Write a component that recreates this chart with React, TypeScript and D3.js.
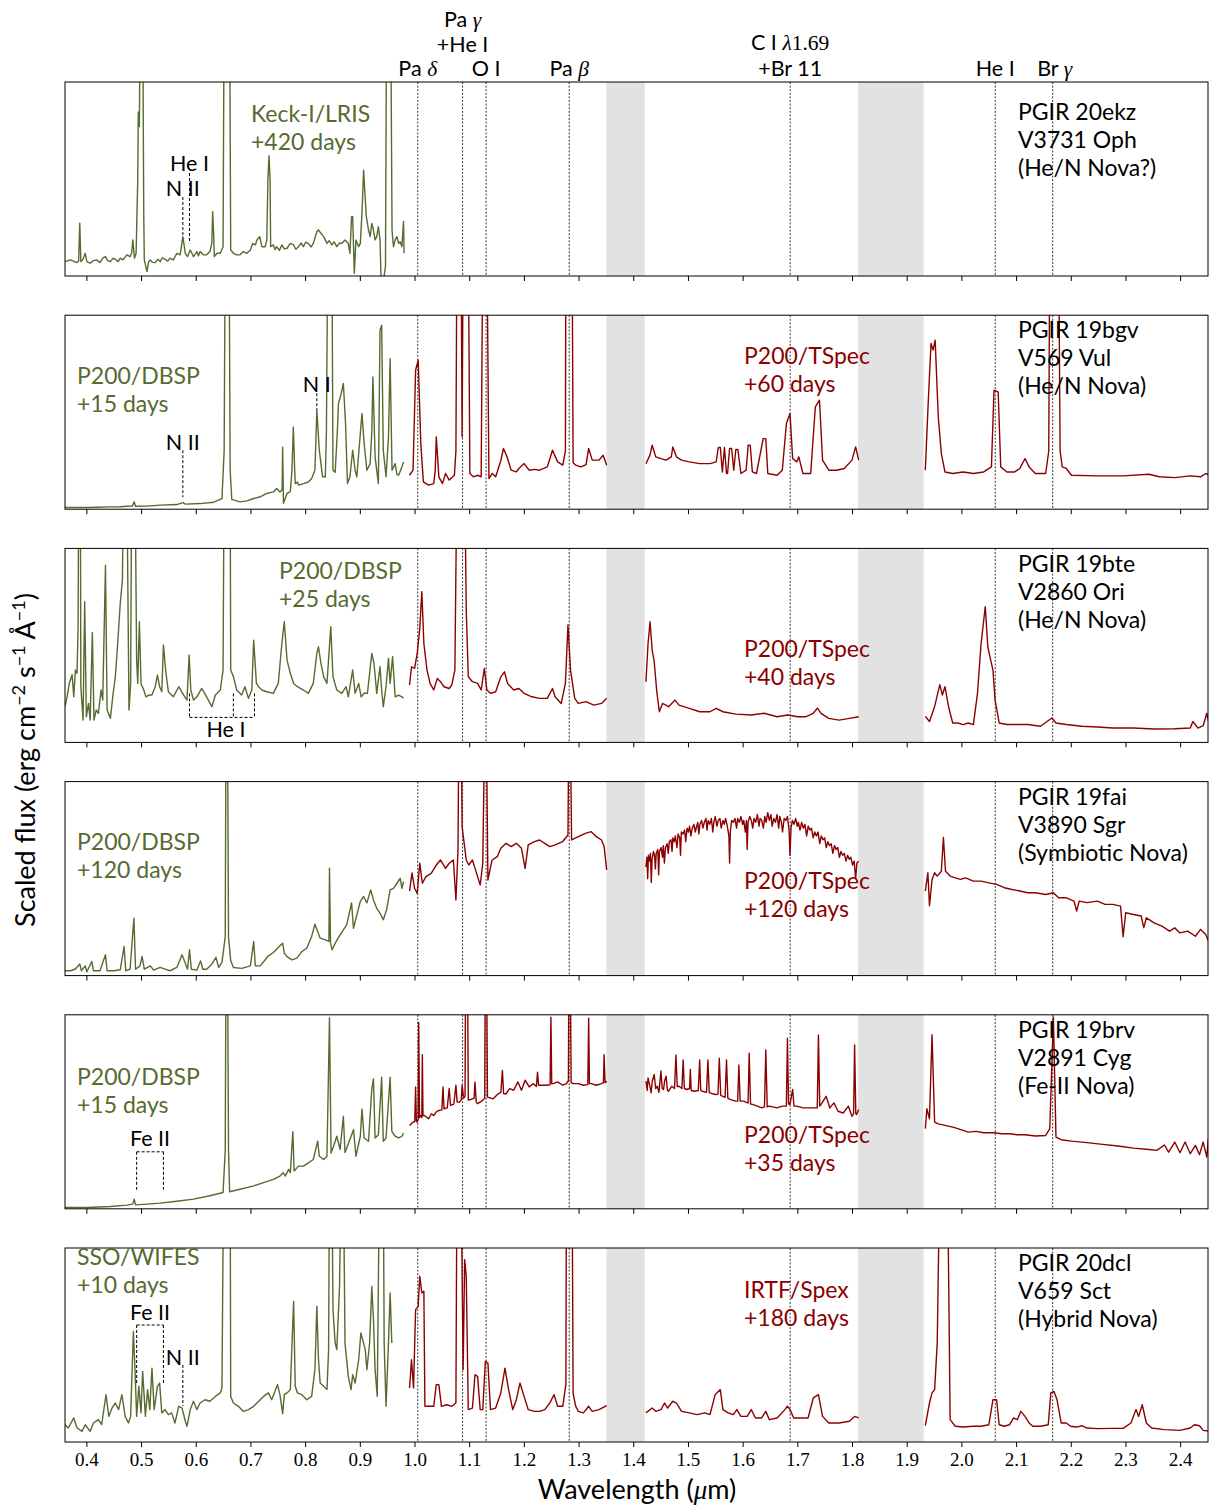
import React from "react";
import * as d3 from "d3";

type Pt = [number, number];

// ---- axis / reference data -------------------------------------------------
const WAVE_TICKS = [0.4, 0.5, 0.6, 0.7, 0.8, 0.9, 1.0, 1.1, 1.2, 1.3, 1.4, 1.5, 1.6, 1.7, 1.8, 1.9, 2.0, 2.1, 2.2, 2.3, 2.4];
const TICK_LABELS = WAVE_TICKS.map((t) => t.toFixed(1));
// NIR line identifications: Pa delta, Pa gamma + He I, O I, Pa beta, C I 1.69 + Br 11, He I, Br gamma
const NIR_LINES = [1.005, 1.087, 1.13, 1.282, 1.686, 2.061, 2.166];
// telluric gaps
const TELLURIC_BANDS: Pt[] = [[1.35, 1.42], [1.81, 1.93]];

// optical line identifications
const N_II_5755 = 0.5755;
const HE_I_5876 = 0.5877;
const HE_I_6678 = 0.6678;
const HE_I_7065 = 0.7065;
const N_I_8210 = 0.8205;
const FE_II_BLUE = 0.491;
const FE_II_RED = 0.54;

// ---- PGIR 20ekz / V3731 Oph -------------------------------------------------
const ekzOptical: Pt[] = [
  [0.36, 7.4], [0.37, 8.3], [0.382, 6.9], [0.385, 7.9], [0.387, 27.2], [0.389, 7.4], [0.393, 8.6], [0.397, 11.7], [0.4, 7.4],
  [0.406, 6.6], [0.412, 7.9], [0.418, 8.3], [0.424, 6.9], [0.429, 9.2], [0.434, 10.0], [0.438, 7.9], [0.443, 7.4], [0.448, 9.2],
  [0.452, 8.6], [0.457, 7.4], [0.461, 9.2], [0.466, 8.3], [0.473, 10.9], [0.479, 10.0], [0.482, 12.0], [0.484, 18.6], [0.487, 9.2],
  [0.49, 11.7], [0.493, 49.5], [0.494, 83.9], [0.495, 84.7], [0.496, 77.0], [0.4975, 140], [0.502, 140], [0.504, 32.0],
  [0.505, 8.3], [0.51, 2.3], [0.513, 7.4], [0.516, 8.3], [0.52, 7.0], [0.525, 6.9], [0.53, 8.6], [0.534, 7.4], [0.538, 9.4],
  [0.543, 8.6], [0.548, 7.7], [0.552, 9.2], [0.558, 8.3], [0.5645, 11.7], [0.5705, 10.9], [0.5755, 20.3], [0.58, 11.7],
  [0.584, 10.0], [0.589, 13.4], [0.595, 10.0], [0.601, 12.6], [0.604, 10.4], [0.607, 12.6], [0.613, 10.9], [0.619, 10.9],
  [0.625, 12.6], [0.6285, 16.9], [0.63, 33.2], [0.632, 20.3], [0.633, 10.0], [0.638, 11.7], [0.644, 11.7], [0.649, 15.1],
  [0.651, 140], [0.661, 140], [0.663, 13.4], [0.668, 11.7], [0.674, 10.9], [0.68, 10.9], [0.686, 12.6], [0.6925, 11.7],
  [0.699, 13.4], [0.703, 16.8], [0.708, 16.0], [0.711, 18.6], [0.716, 20.3], [0.72, 15.1], [0.726, 15.1], [0.729, 18.6],
  [0.731, 49.5], [0.733, 62.0], [0.735, 49.5], [0.736, 15.1], [0.741, 16.0], [0.744, 13.6], [0.747, 15.1], [0.752, 13.2],
  [0.7565, 16.0], [0.761, 14.0], [0.766, 14.3], [0.772, 16.8], [0.778, 16.0], [0.782, 13.8], [0.787, 15.1], [0.792, 17.0],
  [0.796, 15.1], [0.8, 17.4], [0.805, 16.8], [0.81, 15.0], [0.814, 16.8], [0.8205, 22.8], [0.8235, 23.7], [0.828, 22.0],
  [0.833, 20.3], [0.839, 16.8], [0.843, 18.2], [0.848, 16.0], [0.852, 17.6], [0.857, 15.1], [0.862, 17.0], [0.866, 16.8],
  [0.872, 18.6], [0.878, 16.8], [0.881, 11.7], [0.884, 30.6], [0.886, 30.6], [0.889, 1.4], [0.892, 18.6], [0.897, 15.1],
  [0.9, 16.8], [0.903, 32.3], [0.906, 54.6], [0.908, 44.3], [0.911, 30.6], [0.915, 23.7], [0.918, 20.3], [0.921, 27.1],
  [0.924, 23.7], [0.927, 18.6], [0.93, 20.3], [0.933, 25.4], [0.936, 18.6], [0.938, -2], [0.942, -3], [0.946, 4.8],
  [0.948, 140], [0.9555, 140], [0.958, 23.7], [0.9606, 15.1], [0.9637, 18.6], [0.967, 20.3], [0.97, 16.8], [0.973, 17.7],
  [0.976, 15.1], [0.979, 28.1], [0.98, 11.7],
];

// ---- PGIR 19bgv / V569 Vul --------------------------------------------------
const bgvOptical: Pt[] = [
  [0.36, 0.9], [0.38, 0.9], [0.4, 0.9], [0.42, 1.0], [0.44, 1.2], [0.46, 1.3], [0.473, 1.5], [0.483, 1.6], [0.4865, 3.8],
  [0.489, 1.5], [0.51, 1.6], [0.534, 2.1], [0.5645, 2.4], [0.5755, 3.4], [0.58, 2.6], [0.607, 2.9], [0.632, 3.6], [0.647, 5.5],
  [0.651, 30], [0.653, 140], [0.66, 140], [0.662, 20], [0.665, 5.0], [0.668, 4.8], [0.68, 3.8], [0.6925, 4.3], [0.705, 5.5],
  [0.717, 6.4], [0.729, 8.1], [0.741, 8.9], [0.747, 10.7], [0.753, 8.9], [0.757, 10.0], [0.758, 32.0], [0.7595, 3.0],
  [0.766, 8.1], [0.772, 9.0], [0.775, 20.0], [0.7775, 42.4], [0.78, 20.0], [0.781, 13.2], [0.785, 14.0], [0.7875, 12.4],
  [0.796, 13.2], [0.805, 14.0], [0.811, 15.8], [0.817, 20.1], [0.8205, 51.0], [0.825, 30.4], [0.831, 16.7], [0.836, 16.7],
  [0.838, 40], [0.8406, 140], [0.848, 140], [0.85, 20.1], [0.854, 19.0], [0.858, 40.0], [0.86, 54.5], [0.865, 59.6],
  [0.869, 64.8], [0.873, 44.0], [0.8765, 13.2], [0.881, 16.7], [0.886, 30.4], [0.8905, 20.1], [0.8936, 16.7], [0.9, 39.0],
  [0.903, 49.3], [0.907, 33.8], [0.912, 20.1], [0.918, 23.5], [0.921, 40.0], [0.923, 68.2], [0.927, 27.0], [0.933, 13.2],
  [0.936, 92.3], [0.939, 94.8], [0.942, 30.4], [0.947, 16.7], [0.9515, 37.3], [0.9545, 77.6], [0.958, 20.1], [0.9637, 23.5],
  [0.967, 18.0], [0.97, 17.5], [0.976, 21.8], [0.979, 24.4],
];
const bgvNirJ: Pt[] = [
  [0.99, 17.5], [0.9964, 20.1], [1.0011, 71.6], [1.0058, 76.8], [1.0106, 33.8], [1.0153, 14.1], [1.0247, 12.4], [1.0342, 13.2],
  [1.037, 20], [1.0389, 37.3], [1.0436, 16.7], [1.0502, 13.2], [1.0559, 18.4], [1.0625, 15.0], [1.072, 17.5], [1.0748, 30],
  [1.0767, 140], [1.0842, 140], [1.0861, 37.3], [1.088, 140], [1.0974, 140], [1.1003, 18.4], [1.1069, 16.7], [1.1144, 17.5],
  [1.121, 16.7], [1.1239, 140], [1.1314, 140], [1.1352, 15.8], [1.1409, 18.4], [1.1475, 16.7], [1.1569, 25.0], [1.1617, 31.3],
  [1.1683, 27.0], [1.1758, 20.1], [1.1853, 19.2], [1.19, 21.0], [1.1994, 23.5], [1.2089, 20.1], [1.2183, 20.5], [1.2278, 20.1],
  [1.2419, 21.8], [1.2466, 26.0], [1.2514, 30.4], [1.2608, 24.4], [1.2702, 22.7], [1.275, 30], [1.2759, 140], [1.2872, 140],
  [1.2891, 24.0], [1.2939, 22.7], [1.3033, 21.8], [1.3127, 23.0], [1.3175, 31.3], [1.3241, 25.3], [1.3364, 25.3],
  [1.3439, 27.8], [1.3505, 22.7],
];
const bgvNirH: Pt[] = [
  [1.4223, 23.5], [1.4298, 28.0], [1.4336, 33.0], [1.4402, 27.0], [1.4497, 26.1], [1.4591, 25.3], [1.4686, 27.0], [1.4714, 32.1],
  [1.478, 27.0], [1.4874, 25.3], [1.5016, 24.4], [1.5205, 23.5], [1.5394, 23.5], [1.5507, 24.4], [1.5545, 31.8], [1.5583, 31.8],
  [1.562, 19.2], [1.5658, 31.8], [1.5696, 18.4], [1.5715, 18.4], [1.5752, 31.3], [1.579, 31.3], [1.5828, 20.1], [1.5866, 30.8],
  [1.5903, 30.8], [1.596, 18.4], [1.6055, 20.1], [1.6092, 33.0], [1.613, 33.0], [1.6168, 19.2], [1.6244, 18.4], [1.6366, 36.4],
  [1.6414, 36.4], [1.6451, 18.4], [1.6621, 17.5], [1.6716, 20.1], [1.6791, 44.2], [1.6857, 49.3], [1.6905, 26.1], [1.698, 24.4],
  [1.7018, 27.0], [1.7093, 18.4], [1.7235, 18.4], [1.732, 52.7], [1.7396, 56.2], [1.7452, 25.3], [1.7566, 20.1], [1.7707, 20.1],
  [1.7849, 21.0], [1.799, 25.3], [1.8057, 32.1], [1.8113, 25.3],
];
const bgvNirK: Pt[] = [
  [1.9331, 20.1], [1.9378, 51.0], [1.9435, 85.4], [1.9473, 82.0], [1.9511, 87.1], [1.9568, 47.6], [1.9624, 28.7], [1.969, 19.2],
  [1.9832, 18.4], [2.0021, 19.2], [2.021, 18.4], [2.0398, 19.2], [2.054, 21.8], [2.0587, 61.3], [2.0663, 60.5], [2.071, 21.8],
  [2.0823, 19.2], [2.0965, 19.2], [2.1059, 21.0], [2.1154, 26.1], [2.1229, 21.8], [2.1343, 18.4], [2.1532, 18.4], [2.1588, 30],
  [2.1607, 140], [2.1768, 140], [2.1796, 30], [2.1834, 21.8], [2.1909, 21.0], [2.2004, 17.5], [2.2476, 17.2], [2.2948, 17.2],
  [2.342, 18.0], [2.3609, 16.7], [2.3892, 16.3], [2.4176, 17.2], [2.4364, 16.7], [2.4459, 18.4], [2.4535, 17.5],
];

// ---- PGIR 19bte / V2860 Ori -------------------------------------------------
const bteOptical: Pt[] = [
  [0.36, 18.6], [0.363, 22.3], [0.368, 30.6], [0.373, 34.9], [0.376, 23.5], [0.379, 37.3], [0.382, 35.6], [0.384, 60],
  [0.385, 140], [0.388, 140], [0.389, 28.7], [0.393, 11.5], [0.396, 72.5], [0.399, 13.2], [0.403, 20.1], [0.406, 11.5],
  [0.41, 56.6], [0.413, 11.5], [0.417, 16.7], [0.421, 15.0], [0.426, 27.0], [0.429, 21.8], [0.434, 91.4], [0.437, 16.7],
  [0.443, 12.4], [0.448, 25.3], [0.452, 33.8], [0.456, 49.3], [0.461, 71.6], [0.465, 83.7], [0.467, 140], [0.473, 140],
  [0.477, 16.7], [0.48, 30.4], [0.482, 140], [0.488, 140], [0.491, 42.4], [0.493, 30.4], [0.496, 62.2], [0.499, 30.4],
  [0.504, 27.0], [0.508, 23.5], [0.513, 24.4], [0.519, 24.4], [0.525, 28.7], [0.529, 34.7], [0.533, 28.7], [0.537, 26.1],
  [0.54, 50.2], [0.544, 37.3], [0.549, 26.1], [0.558, 23.5], [0.568, 28.7], [0.577, 24.4], [0.583, 21.8], [0.587, 45.0],
  [0.59, 27.0], [0.595, 21.8], [0.601, 23.5], [0.61, 27.8], [0.619, 23.5], [0.6285, 18.4], [0.635, 24.4], [0.644, 27.0],
  [0.649, 37.3], [0.651, 140], [0.662, 140], [0.663, 37.3], [0.668, 33.8], [0.674, 27.0], [0.683, 24.4], [0.689, 28.7],
  [0.6955, 22.7], [0.7016, 27.0], [0.705, 52.7], [0.71, 30.4], [0.714, 28.7], [0.72, 27.0], [0.729, 26.1], [0.741, 25.3],
  [0.75, 30.4], [0.7565, 51.0], [0.761, 62.2], [0.766, 42.4], [0.772, 35.6], [0.778, 30.4], [0.785, 28.7], [0.796, 27.0],
  [0.805, 25.3], [0.814, 30.4], [0.8205, 45.9], [0.8235, 49.3], [0.828, 40.7], [0.833, 33.8], [0.839, 30.4], [0.846, 59.6],
  [0.85, 33.8], [0.857, 27.0], [0.866, 25.3], [0.874, 28.7], [0.878, 23.5], [0.886, 37.3], [0.8905, 25.3], [0.897, 30.4],
  [0.9015, 23.5], [0.907, 25.3], [0.913, 25.3], [0.921, 45.9], [0.925, 40.7], [0.93, 25.3], [0.936, 39.0], [0.939, 27.0],
  [0.942, 18.4], [0.947, 28.7], [0.9515, 43.3], [0.9545, 30.4], [0.959, 44.2], [0.9637, 23.5], [0.97, 24.4], [0.976, 23.5],
  [0.979, 22.7],
];
const bteNirJ: Pt[] = [
  [0.99, 29.6], [0.9936, 39.0], [0.9992, 38.1], [1.004, 45.9], [1.0087, 58.8], [1.0125, 77.7], [1.0162, 51.0], [1.0219, 37.3],
  [1.0276, 30.4], [1.0342, 27.0], [1.0408, 33.0], [1.0465, 31.3], [1.0531, 28.7], [1.0625, 27.8], [1.0672, 29.6], [1.0729, 37.3],
  [1.0767, 140], [1.0908, 140], [1.0937, 68.2], [1.0974, 33.8], [1.105, 31.3], [1.1144, 30.4], [1.121, 27.0], [1.1267, 38.1],
  [1.1314, 27.0], [1.138, 25.3], [1.1475, 26.1], [1.1569, 33.8], [1.1635, 36.4], [1.1692, 30.4], [1.1805, 27.0], [1.19, 27.8],
  [1.1994, 25.3], [1.2136, 23.5], [1.2278, 22.7], [1.2419, 22.7], [1.2514, 27.8], [1.2561, 23.5], [1.2674, 20.1], [1.275, 30.4],
  [1.2797, 60.5], [1.2844, 37.3], [1.292, 22.7], [1.2986, 20.1], [1.3127, 21.0], [1.3269, 19.2], [1.3411, 20.1], [1.3505, 22.7],
];
const bteNirH: Pt[] = [
  [1.4223, 31.3], [1.4261, 51.0], [1.4298, 62.2], [1.4336, 47.6], [1.4374, 41.6], [1.4421, 26.1], [1.4468, 15.8], [1.4525, 20.1],
  [1.4638, 18.4], [1.4752, 21.8], [1.4827, 19.2], [1.5016, 17.5], [1.5205, 15.8], [1.5394, 15.8], [1.5507, 17.5], [1.563, 15.8],
  [1.5866, 14.6], [1.6149, 14.1], [1.6385, 15.0], [1.6621, 13.2], [1.681, 14.1], [1.6999, 13.2], [1.7141, 13.2], [1.7282, 15.0],
  [1.7358, 17.7], [1.7424, 15.0], [1.7566, 12.4], [1.7754, 11.5], [1.7943, 12.4], [1.8113, 13.2],
];
const bteNirK: Pt[] = [
  [1.9331, 13.4], [1.9407, 10.8], [1.9501, 18.4], [1.9596, 29.8], [1.9643, 24.4], [1.969, 28.7], [1.9756, 18.4], [1.9832, 10.0],
  [1.9926, 10.0], [2.0021, 9.2], [2.0115, 10.0], [2.021, 9.2], [2.0285, 25.3], [2.0351, 51.0], [2.0427, 70.0], [2.0474, 49.3],
  [2.0512, 44.2], [2.0568, 37.3], [2.0606, 22.0], [2.0682, 10.0], [2.0823, 9.2], [2.1012, 9.2], [2.1201, 9.2], [2.1437, 8.3],
  [2.1645, 12.6], [2.172, 10.0], [2.1909, 9.2], [2.2193, 8.3], [2.2476, 7.9], [2.2759, 7.4], [2.3137, 7.4], [2.3515, 6.9],
  [2.3892, 7.0], [2.4176, 7.4], [2.4223, 10.8], [2.4317, 7.4], [2.4412, 8.6], [2.4478, 15.0], [2.4535, 7.4],
];

// ---- PGIR 19fai / V3890 Sgr -------------------------------------------------
const faiOptical: Pt[] = [
  [0.36, 2.5], [0.37, 2.5], [0.379, 3.4], [0.387, 6.0], [0.39, 2.5], [0.397, 5.0], [0.4, 2.0], [0.409, 7.3], [0.412, 2.5],
  [0.424, 2.5], [0.434, 10.7], [0.437, 2.5], [0.449, 2.5], [0.461, 3.0], [0.468, 15.0], [0.471, 2.5], [0.479, 3.3],
  [0.486, 29.6], [0.489, 3.3], [0.497, 5.0], [0.501, 9.9], [0.505, 3.3], [0.516, 5.0], [0.522, 2.8], [0.534, 4.2], [0.543, 3.3],
  [0.552, 2.5], [0.5645, 4.2], [0.574, 10.7], [0.58, 6.4], [0.584, 3.3], [0.5877, 13.3], [0.591, 3.3], [0.601, 2.8],
  [0.608, 7.6], [0.612, 3.3], [0.619, 3.3], [0.6285, 5.9], [0.636, 9.4], [0.641, 4.2], [0.647, 6.8], [0.653, 20],
  [0.6545, 140], [0.657, 140], [0.659, 20], [0.663, 7.6], [0.668, 4.2], [0.683, 3.7], [0.699, 5.0], [0.705, 17.6], [0.708, 5.0],
  [0.717, 5.0], [0.732, 10.2], [0.741, 11.9], [0.753, 15.4], [0.758, 16.7], [0.761, 11.5], [0.766, 9.8], [0.775, 8.1],
  [0.784, 9.0], [0.793, 12.4], [0.802, 14.1], [0.811, 20.2], [0.817, 26.5], [0.822, 22.7], [0.8266, 19.3], [0.836, 18.4],
  [0.8426, 17.6], [0.8436, 55.4], [0.8455, 16.7], [0.8485, 13.3], [0.854, 16.7], [0.863, 21.0], [0.875, 26.1], [0.884, 37.5],
  [0.8875, 24.4], [0.8936, 31.3], [0.9, 38.2], [0.906, 40.8], [0.912, 37.5], [0.919, 44.2], [0.924, 39.0], [0.93, 34.7],
  [0.936, 32.2], [0.942, 28.8], [0.948, 33.9], [0.9545, 44.2], [0.9606, 45.0], [0.967, 47.6], [0.973, 50.2], [0.976, 45.0],
  [0.979, 48.5],
];
const faiNirJ: Pt[] = [
  [0.99, 43.5], [0.9945, 52.9], [0.9992, 45.0], [1.004, 42.4], [1.0087, 58.0], [1.0134, 47.6], [1.02, 51.0], [1.0295, 52.7],
  [1.0389, 57.0], [1.0465, 59.6], [1.0559, 55.3], [1.0625, 57.9], [1.0701, 59.6], [1.0748, 39.0], [1.0786, 64.8],
  [1.0805, 140], [1.0842, 140], [1.0861, 76.8], [1.0937, 59.6], [1.0984, 57.0], [1.105, 59.6], [1.1116, 53.6], [1.1192, 46.7],
  [1.1239, 57.9], [1.128, 140], [1.13, 140], [1.1333, 49.3], [1.1409, 59.6], [1.1503, 61.3], [1.1569, 65.6], [1.1664, 68.2],
  [1.1758, 66.5], [1.1853, 68.2], [1.1947, 65.6], [1.2013, 55.3], [1.207, 67.4], [1.2183, 69.1], [1.2278, 69.9], [1.2372, 68.2],
  [1.2466, 66.5], [1.2561, 67.4], [1.2702, 69.1], [1.2797, 72.5], [1.2815, 140], [1.2835, 140], [1.2863, 69.9], [1.2986, 71.6],
  [1.3127, 73.4], [1.3222, 74.2], [1.3316, 71.6], [1.3411, 69.9], [1.3458, 66.5], [1.3505, 54.5],
];
const faiNirH: Pt[] = [
  [1.4223, 56], [1.424, 61], [1.4255, 50], [1.4268, 62], [1.429, 59], [1.4305, 63], [1.432, 48], [1.4335, 60], [1.436, 64],
  [1.438, 62], [1.4395, 55], [1.441, 63], [1.444, 65], [1.4455, 52], [1.447, 64], [1.45, 66], [1.4525, 61], [1.454, 67],
  [1.456, 58], [1.458, 66], [1.461, 68], [1.463, 63], [1.465, 69], [1.468, 70], [1.47, 64], [1.4715, 71], [1.474, 69],
  [1.476, 72], [1.479, 66], [1.481, 73], [1.484, 71], [1.4855, 62], [1.487, 74], [1.49, 73], [1.493, 75], [1.495, 69],
  [1.4975, 76], [1.5, 74], [1.502, 77], [1.5045, 72], [1.507, 76], [1.51, 78], [1.5125, 74], [1.515, 77], [1.517, 79],
  [1.519, 73], [1.521, 78], [1.524, 80], [1.5265, 76], [1.529, 79], [1.532, 81], [1.534, 75], [1.536, 80], [1.539, 78],
  [1.542, 81], [1.5445, 74], [1.5465, 79], [1.549, 82], [1.552, 77], [1.5545, 80], [1.5575, 81], [1.56, 76], [1.563, 80],
  [1.5655, 78], [1.568, 81], [1.571, 77], [1.574, 72], [1.5752, 58], [1.5765, 74], [1.579, 80], [1.582, 79], [1.585, 81],
  [1.588, 76], [1.59, 81], [1.593, 79], [1.596, 82], [1.599, 78], [1.601, 80], [1.604, 74], [1.606, 80], [1.6073, 65],
  [1.609, 79], [1.612, 82], [1.615, 80], [1.6175, 76], [1.62, 81], [1.623, 79], [1.626, 83], [1.629, 77], [1.631, 81],
  [1.634, 80], [1.637, 76], [1.6395, 82], [1.642, 79], [1.645, 84], [1.648, 80], [1.6508, 83], [1.653, 77], [1.656, 81],
  [1.659, 79], [1.662, 83], [1.665, 76], [1.667, 82], [1.67, 79], [1.672, 74], [1.675, 81], [1.678, 80], [1.681, 82],
  [1.684, 75], [1.6857, 62], [1.6875, 76], [1.69, 80], [1.693, 78], [1.696, 81], [1.699, 77], [1.701, 79], [1.704, 75],
  [1.707, 79], [1.71, 76], [1.713, 78], [1.716, 72], [1.719, 77], [1.722, 75], [1.725, 76], [1.728, 71], [1.731, 74],
  [1.734, 72], [1.737, 74], [1.74, 68], [1.743, 72], [1.746, 70], [1.749, 71], [1.752, 66], [1.755, 69], [1.758, 67],
  [1.761, 68], [1.764, 63], [1.767, 67], [1.77, 65], [1.773, 66], [1.776, 61], [1.779, 64], [1.782, 62], [1.785, 63],
  [1.788, 59], [1.791, 62], [1.794, 60], [1.797, 61], [1.8, 57], [1.803, 59], [1.8057, 50], [1.808, 58], [1.8113, 59],
];
const faiNirK: Pt[] = [
  [1.9331, 43.6], [1.9378, 53.0], [1.9407, 36.0], [1.9454, 49.4], [1.9501, 53.0], [1.9549, 51.3], [1.9624, 53.8], [1.9662, 71.2],
  [1.97, 53.8], [1.9785, 51.3], [1.9879, 50.4], [1.9973, 49.6], [2.0068, 50.4], [2.021, 48.7], [2.0351, 48.7], [2.0493, 47.8],
  [2.0634, 47.0], [2.0776, 45.3], [2.0918, 44.4], [2.1059, 43.6], [2.1201, 42.7], [2.1343, 42.7], [2.1532, 41.8], [2.1673, 42.7],
  [2.1768, 40.1], [2.1909, 40.1], [2.2051, 38.4], [2.2098, 33.3], [2.2145, 38.4], [2.2287, 37.6], [2.2476, 38.4], [2.2618, 36.7],
  [2.2759, 36.7], [2.2901, 35.8], [2.2948, 20.0], [2.2995, 32.4], [2.3137, 31.5], [2.3279, 30.7], [2.3326, 24.7], [2.3373, 29.8],
  [2.3515, 27.2], [2.3656, 25.5], [2.3798, 22.9], [2.3892, 24.6], [2.3987, 22.0], [2.4128, 22.9], [2.427, 20.3], [2.4364, 23.8],
  [2.4459, 21.2], [2.4535, 16.0],
];

// ---- PGIR 19brv / V2891 Cyg -------------------------------------------------
const brvOptical: Pt[] = [
  [0.36, 0.7], [0.4, 0.7], [0.443, 1.2], [0.473, 1.9], [0.484, 2.4], [0.4865, 5.0], [0.489, 2.0], [0.51, 2.4], [0.534, 2.9],
  [0.5645, 3.9], [0.595, 5.0], [0.625, 6.7], [0.649, 8.4], [0.653, 30], [0.6545, 140], [0.657, 140], [0.659, 30], [0.661, 8.8],
  [0.68, 10.1], [0.705, 11.8], [0.723, 13.5], [0.741, 15.2], [0.753, 16.9], [0.759, 18.6], [0.763, 16.9], [0.769, 20.3],
  [0.772, 18.6], [0.7766, 39.8], [0.779, 19.5], [0.787, 22.0], [0.796, 22.0], [0.805, 23.7], [0.814, 25.4], [0.822, 34.9],
  [0.825, 27.1], [0.833, 25.4], [0.839, 27.1], [0.8436, 98.5], [0.8465, 28.8], [0.851, 32.2], [0.857, 37.4], [0.863, 30.6],
  [0.869, 47.7], [0.872, 29.0], [0.881, 35.7], [0.8875, 40.8], [0.892, 27.1], [0.9, 37.4], [0.903, 51.5], [0.907, 36.5],
  [0.915, 34.8], [0.921, 61.8], [0.924, 67.0], [0.927, 36.5], [0.933, 38.2], [0.939, 67.8], [0.942, 34.8], [0.947, 36.5],
  [0.9545, 67.8], [0.9576, 39.9], [0.9637, 37.4], [0.97, 36.5], [0.976, 37.4], [0.979, 39.0],
];
const brvNirJ: Pt[] = [
  [0.99, 42.9], [0.9964, 44.7], [0.9995, 45], [1.0011, 62.8], [1.0025, 45], [1.004, 44.7], [1.0058, 46], [1.0068, 96.1],
  [1.0082, 47], [1.0106, 48.1], [1.0124, 47], [1.0134, 79.4], [1.0146, 48], [1.0172, 48.1], [1.0247, 46.4], [1.03, 49],
  [1.0342, 48.1], [1.039, 50], [1.0436, 50.7], [1.049, 51], [1.0512, 62.8], [1.053, 51.6], [1.059, 52], [1.0625, 62.0],
  [1.065, 53.3], [1.071, 54], [1.0748, 63.7], [1.077, 55], [1.0814, 55.0], [1.0845, 56], [1.0861, 63.7], [1.089, 57],
  [1.0915, 58], [1.0927, 140], [1.0956, 140], [1.0975, 56], [1.105, 56.7], [1.108, 57], [1.1097, 65.4], [1.112, 55],
  [1.1144, 54.2], [1.1239, 55.9], [1.1275, 57], [1.1286, 140], [1.1305, 140], [1.1325, 57.6], [1.1428, 56.7], [1.1522, 59.3],
  [1.157, 60], [1.1598, 71.3], [1.162, 59.3], [1.1664, 59.3], [1.173, 61.9], [1.1805, 61.1], [1.1881, 65.4], [1.1947, 61.1],
  [1.2013, 66.3], [1.2089, 62.8], [1.2164, 64.5], [1.222, 63], [1.224, 70.4], [1.226, 63.7], [1.2325, 63.7], [1.2419, 63.7],
  [1.247, 64], [1.2485, 98.7], [1.25, 64.5], [1.2533, 64.5], [1.2608, 65.4], [1.2702, 63.7], [1.2769, 64.5], [1.2805, 66],
  [1.2815, 140], [1.2835, 140], [1.2855, 65], [1.2891, 64.5], [1.2986, 64.5], [1.308, 63.7], [1.316, 64], [1.3175, 98.3],
  [1.319, 64.5], [1.3222, 64.5], [1.3316, 63.7], [1.3411, 64.5], [1.3445, 65], [1.3458, 79.4], [1.3475, 65], [1.3505, 65.8],
];
const brvNirH: Pt[] = [
  [1.4223, 65.8], [1.4245, 61], [1.4261, 67.5], [1.429, 64], [1.4317, 59.8], [1.434, 66], [1.4374, 69.2], [1.44, 62],
  [1.4431, 63.2], [1.446, 60], [1.4497, 71.0], [1.452, 62], [1.4544, 61.5], [1.4565, 66], [1.4591, 68.4], [1.4615, 61],
  [1.4638, 60.6], [1.4695, 63.2], [1.4745, 62], [1.4771, 79.3], [1.4795, 63], [1.4827, 63.2], [1.488, 62], [1.4903, 76.7],
  [1.4925, 62], [1.4969, 61.5], [1.502, 62], [1.5035, 71.8], [1.505, 61], [1.511, 60.6], [1.518, 61], [1.5205, 76.7],
  [1.5225, 61], [1.5252, 60.6], [1.533, 60], [1.5356, 76.7], [1.538, 60], [1.5394, 59.8], [1.5488, 58.9], [1.554, 59],
  [1.5564, 77.6], [1.559, 58.5], [1.563, 58.0], [1.567, 57.5], [1.5696, 76.7], [1.572, 57], [1.5771, 56.3], [1.5866, 55.5],
  [1.59, 55.5], [1.5922, 74.1], [1.5945, 55.5], [1.6007, 55.5], [1.609, 54.5], [1.6111, 80.2], [1.6135, 54], [1.6168, 53.8],
  [1.6263, 52.9], [1.6338, 52.0], [1.639, 52.5], [1.6414, 81.9], [1.644, 52.5], [1.648, 52.9], [1.6621, 52.0], [1.6716, 52.9],
  [1.679, 53], [1.681, 87.9], [1.683, 54], [1.6857, 53.8], [1.6905, 61.5], [1.693, 53], [1.698, 52.9], [1.7093, 52.0],
  [1.7235, 52.0], [1.7355, 52], [1.7377, 89.6], [1.74, 53], [1.7424, 53.8], [1.7518, 58.0], [1.7585, 52.0], [1.766, 54.6],
  [1.7736, 50.3], [1.783, 49.4], [1.7924, 52.9], [1.799, 47.7], [1.802, 49], [1.8038, 84.5], [1.806, 49], [1.8075, 48.6],
  [1.8113, 51.2],
];
const brvNirK: Pt[] = [
  [1.9331, 41.3], [1.936, 51.6], [1.9407, 46.4], [1.9454, 89.7], [1.9501, 44.7], [1.9568, 43.8], [1.969, 43.0], [1.9832, 42.1],
  [1.9926, 41.3], [2.0021, 40.4], [2.0115, 39.5], [2.0257, 39.9], [2.0398, 39.2], [2.0587, 39.2], [2.0729, 38.7], [2.0871, 38.7],
  [2.1012, 38.2], [2.1154, 38.2], [2.1343, 37.5], [2.1532, 37.8], [2.1607, 41.3], [2.1673, 98.7], [2.172, 37.0], [2.1815, 35.6],
  [2.2004, 34.9], [2.2287, 34.1], [2.2571, 33.2], [2.2854, 32.4], [2.3137, 31.3], [2.342, 30.6], [2.3562, 30.1], [2.3704, 32.9],
  [2.3779, 29.2], [2.3892, 34.4], [2.3987, 28.9], [2.4081, 34.4], [2.4176, 28.4], [2.427, 32.7], [2.4345, 27.9], [2.4412, 34.4],
  [2.4478, 26.7], [2.4506, 36.0], [2.4535, 25.9],
];

// ---- PGIR 20dcl / V659 Sct --------------------------------------------------
const dclOptical: Pt[] = [
  [0.36, 8.9], [0.366, 7.2], [0.376, 12.4], [0.382, 7.2], [0.391, 5.5], [0.397, 8.9], [0.406, 5.5], [0.412, 9.8], [0.421, 11.5],
  [0.427, 8.9], [0.435, 24.4], [0.44, 13.2], [0.446, 17.5], [0.452, 20.1], [0.458, 16.7], [0.464, 24.4], [0.47, 13.2],
  [0.476, 9.8], [0.48, 13.2], [0.485, 57.0], [0.488, 37.3], [0.491, 13.2], [0.495, 28.7], [0.499, 15.0], [0.502, 36.4],
  [0.507, 13.2], [0.511, 27.0], [0.515, 16.7], [0.519, 38.1], [0.523, 16.7], [0.529, 28.7], [0.533, 30.4], [0.537, 15.0],
  [0.543, 16.7], [0.549, 14.1], [0.555, 15.0], [0.561, 9.8], [0.568, 18.4], [0.574, 17.5], [0.58, 10.7], [0.583, 8.1],
  [0.589, 16.7], [0.595, 21.0], [0.601, 16.7], [0.607, 20.1], [0.616, 21.8], [0.625, 21.0], [0.635, 23.5], [0.644, 25.3],
  [0.647, 27.8], [0.65, 140], [0.662, 140], [0.663, 23.5], [0.668, 20.1], [0.677, 18.4], [0.686, 15.8], [0.6955, 16.7],
  [0.705, 18.4], [0.717, 21.8], [0.723, 23.5], [0.732, 25.3], [0.738, 21.8], [0.744, 26.1], [0.7486, 29.6], [0.753, 24.4],
  [0.758, 14.6], [0.761, 24.4], [0.766, 25.3], [0.772, 27.0], [0.778, 72.5], [0.781, 28.7], [0.785, 25.3], [0.793, 24.4],
  [0.802, 21.8], [0.811, 23.5], [0.817, 37.3], [0.8205, 70.0], [0.8235, 42.4], [0.8266, 30.4], [0.833, 28.7], [0.839, 27.0],
  [0.842, 47.6], [0.8436, 140], [0.848, 140], [0.85, 68.2], [0.854, 51.0], [0.857, 47.6], [0.862, 80.2], [0.865, 140],
  [0.869, 140], [0.872, 51.0], [0.878, 33.8], [0.883, 27.0], [0.886, 34.7], [0.8905, 30.4], [0.897, 42.4], [0.901, 56.2],
  [0.906, 51.0], [0.909, 47.6], [0.912, 37.3], [0.917, 51.0], [0.921, 80.2], [0.924, 63.1], [0.927, 37.3], [0.931, 23.5],
  [0.935, 140], [0.942, 140], [0.9436, 51.0], [0.947, 18.4], [0.9515, 51.0], [0.9545, 76.8], [0.9576, 51.0],
];
const dclNirJ: Pt[] = [
  [0.99, 27.8], [0.9936, 42.4], [0.9973, 27.8], [1.0011, 68.2], [1.0058, 69.9], [1.0087, 85.4], [1.0125, 76.8], [1.0162, 77.7],
  [1.0181, 18.4], [1.0247, 18.4], [1.0342, 18.4], [1.0389, 29.6], [1.0436, 29.6], [1.0483, 18.4], [1.0578, 19.2], [1.0672, 18.4],
  [1.0748, 20.1], [1.0767, 140], [1.0842, 140], [1.088, 37.3], [1.0908, 94.0], [1.0937, 85.4], [1.0974, 16.7], [1.105, 17.5],
  [1.1097, 34.7], [1.1144, 33.8], [1.1192, 16.7], [1.1239, 16.7], [1.1286, 41.6], [1.1333, 40.7], [1.138, 16.7], [1.1475, 17.5],
  [1.1569, 25.3], [1.1645, 38.1], [1.1711, 27.0], [1.1787, 16.7], [1.1853, 21.8], [1.1919, 30.4], [1.1994, 23.5], [1.207, 16.7],
  [1.2183, 15.8], [1.2278, 15.8], [1.2372, 16.7], [1.2466, 20.1], [1.2542, 24.4], [1.2608, 18.4], [1.2702, 18.4], [1.2759, 30],
  [1.2769, 140], [1.2872, 140], [1.2891, 25.0], [1.2939, 18.4], [1.2986, 15.8], [1.308, 15.0], [1.3175, 18.4], [1.3241, 15.8],
  [1.3364, 16.7], [1.3505, 18.8],
];
const dclNirH: Pt[] = [
  [1.4223, 15.0], [1.4336, 17.5], [1.4402, 15.8], [1.4497, 16.7], [1.4563, 20.1], [1.4619, 17.5], [1.4714, 21.0], [1.478, 20.1],
  [1.4874, 15.8], [1.5016, 15.0], [1.5158, 14.1], [1.5299, 15.0], [1.5394, 14.1], [1.5488, 24.4], [1.5583, 27.0], [1.563, 16.7],
  [1.5724, 15.0], [1.5819, 14.1], [1.5885, 16.7], [1.596, 13.2], [1.6073, 13.2], [1.6149, 16.7], [1.6225, 12.4], [1.6338, 12.4],
  [1.6414, 15.8], [1.648, 11.5], [1.6621, 12.4], [1.6763, 16.7], [1.681, 18.4], [1.6857, 16.7], [1.6924, 12.4], [1.7046, 12.4],
  [1.7188, 12.4], [1.7282, 22.7], [1.7377, 24.4], [1.7452, 13.2], [1.7566, 9.8], [1.7754, 9.8], [1.7943, 10.7], [1.8038, 13.2],
  [1.8113, 12.4],
];
const dclNirK: Pt[] = [
  [1.9331, 8.4], [1.9407, 20.1], [1.9454, 25.3], [1.9501, 27.0], [1.9549, 51.0], [1.9596, 140], [1.9737, 140], [1.9785, 11.5],
  [1.9879, 8.1], [2.0021, 7.7], [2.021, 8.1], [2.0351, 8.1], [2.0493, 8.9], [2.0568, 21.8], [2.0634, 21.8], [2.0682, 8.9],
  [2.0776, 8.1], [2.0871, 8.9], [2.0946, 12.4], [2.1012, 11.5], [2.1078, 15.8], [2.1154, 13.2], [2.1229, 9.8], [2.1295, 8.1],
  [2.1437, 8.1], [2.1579, 8.9], [2.1626, 25.3], [2.1683, 26.1], [2.1739, 21.8], [2.1815, 9.8], [2.1909, 9.8], [2.1985, 8.1],
  [2.2098, 7.7], [2.2193, 8.4], [2.2287, 7.2], [2.2476, 6.9], [2.2759, 7.0], [2.2948, 7.0], [2.309, 9.8], [2.3184, 16.7],
  [2.3232, 13.2], [2.3298, 19.2], [2.3373, 9.8], [2.3468, 7.2], [2.3704, 6.4], [2.3987, 6.0], [2.4176, 7.2], [2.4251, 8.9],
  [2.4345, 8.4], [2.4412, 6.0], [2.4535, 5.5],
];

// ---- labels ------------------------------------------------------------------
const NOVA_NAMES = [
  ["PGIR 20ekz", "V3731 Oph", "(He/N Nova?)"],
  ["PGIR 19bgv", "V569 Vul", "(He/N Nova)"],
  ["PGIR 19bte", "V2860 Ori", "(He/N Nova)"],
  ["PGIR 19fai", "V3890 Sgr", "(Symbiotic Nova)"],
  ["PGIR 19brv", "V2891 Cyg", "(Fe-II Nova)"],
  ["PGIR 20dcl", "V659 Sct", "(Hybrid Nova)"],
];
const OPTICAL_INSTRUMENTS = [
  ["Keck-I/LRIS", "+420 days"],
  ["P200/DBSP", "+15 days"],
  ["P200/DBSP", "+25 days"],
  ["P200/DBSP", "+120 days"],
  ["P200/DBSP", "+15 days"],
  ["SSO/WIFES", "+10 days"],
];
const NIR_INSTRUMENTS: (string[] | null)[] = [
  null,
  ["P200/TSpec", "+60 days"],
  ["P200/TSpec", "+40 days"],
  ["P200/TSpec", "+120 days"],
  ["P200/TSpec", "+35 days"],
  ["IRTF/Spex", "+180 days"],
];

const OPTICAL_SPECTRA = [ekzOptical, bgvOptical, bteOptical, faiOptical, brvOptical, dclOptical];
const NIR_SPECTRA: Pt[][][] = [
  [],
  [bgvNirJ, bgvNirH, bgvNirK],
  [bteNirJ, bteNirH, bteNirK],
  [faiNirJ, faiNirH, faiNirK],
  [brvNirJ, brvNirH, brvNirK],
  [dclNirJ, dclNirH, dclNirK],
];

// ---- styling / layout ---------------------------------------------------------
const OLIVE = "#556b2f";
const DARKRED = "#8b0000";
const SANS = "Lato, 'DejaVu Sans', sans-serif";
const SERIF = "'Liberation Serif', 'DejaVu Serif', serif";
const LEFT = 65;
const RIGHT = 1208;
const TOP0 = 82;
const STEP = 233.2;
const PH = 194;

const x = d3.scaleLinear().domain([0.36, 2.45]).range([LEFT, RIGHT]);

// instrument label placement per panel: [x, first-line centre offset from panel top]
const OPT_LABEL_POS: Pt[] = [[251, 32], [77, 61], [279, 22], [77, 60], [77, 62], [77, 9]];
const NIR_LABEL_POS: Pt[] = [[744, 0], [744, 41], [744, 100], [744, 99], [744, 120], [744, 42]];
const NAME_OFFSET = [30, 15, 15, 15, 15, 15];
const LINE_GAP = 28;
const FS = 23;
const ID_FS = 21.5;

function Lines({ lines, x0, yc, color, anchor = "start" }: { lines: string[]; x0: number; yc: number; color: string; anchor?: string }) {
  return (
    <g fill={color} fontFamily={SANS} fontSize={FS} textAnchor={anchor as any}>
      {lines.map((t, k) => (
        <text key={k} x={x0} y={yc + k * LINE_GAP + FS * 0.36}>
          {t}
        </text>
      ))}
    </g>
  );
}

function Dash({ x1, y1, x2, y2 }: { x1: number; y1: number; x2: number; y2: number }) {
  return <line x1={x1} y1={y1} x2={x2} y2={y2} stroke="#000" strokeWidth={1} strokeDasharray="3,2" />;
}

function Panel({ i }: { i: number }) {
  const top = TOP0 + i * STEP;
  const bottom = top + PH;
  const y = d3.scaleLinear().domain([0, 100]).range([bottom, top]);
  const line = d3
    .line<Pt>()
    .x((d) => x(d[0]))
    .y((d) => y(d[1]));
  const clipId = `clip-${i}`;
  const opt = OPT_LABEL_POS[i];
  const nir = NIR_LABEL_POS[i];
  const nirText = NIR_INSTRUMENTS[i];
  return (
    <g>
      <defs>
        <clipPath id={clipId}>
          <rect x={LEFT} y={top} width={RIGHT - LEFT} height={PH} />
        </clipPath>
      </defs>
      {TELLURIC_BANDS.map(([a, b], k) => (
        <rect key={k} x={x(a)} y={top} width={x(b) - x(a)} height={PH} fill="#e2e2e2" />
      ))}
      {NIR_LINES.map((w, k) => (
        <line key={k} x1={x(w)} x2={x(w)} y1={top} y2={bottom} stroke="#000" strokeWidth={0.8} strokeDasharray="2,1.6" />
      ))}
      <g clipPath={`url(#${clipId})`} fill="none" strokeWidth={1.4} strokeLinejoin="round">
        <path d={line(OPTICAL_SPECTRA[i]) ?? ""} stroke={OLIVE} />
        {NIR_SPECTRA[i].map((seg, k) => (
          <path key={k} d={line(seg) ?? ""} stroke={DARKRED} />
        ))}
      </g>
      <rect x={LEFT} y={top} width={RIGHT - LEFT} height={PH} fill="none" stroke="#000" strokeWidth={1} />
      {WAVE_TICKS.map((t, k) => (
        <line key={k} x1={x(t)} x2={x(t)} y1={bottom} y2={bottom + 5} stroke="#000" strokeWidth={1} />
      ))}
      <Lines lines={NOVA_NAMES[i]} x0={1018} yc={top + NAME_OFFSET[i]} color="#000" />
      <Lines lines={OPTICAL_INSTRUMENTS[i]} x0={opt[0]} yc={top + opt[1]} color={OLIVE} />
      {nirText && <Lines lines={nirText} x0={nir[0]} yc={top + nir[1]} color={DARKRED} />}
    </g>
  );
}

function IdText({ cx, cy, children }: { cx: number; cy: number; children: React.ReactNode }) {
  return (
    <text x={cx} y={cy + ID_FS * 0.36} textAnchor="middle" fontFamily={SANS} fontSize={ID_FS} fill="#000">
      {children}
    </text>
  );
}

function Greek({ children }: { children: React.ReactNode }) {
  return (
    <tspan fontFamily={SERIF} fontStyle="italic">
      {children}
    </tspan>
  );
}

export default function App() {
  const panelTop = (i: number) => TOP0 + i * STEP;
  const lastBottom = panelTop(5) + PH;
  return (
    <svg width={1209} height={1507} style={{ display: "block", position: "absolute", left: 0, top: 0, background: "#fff" }}>
      <rect width={1209} height={1507} fill="#fff" />
      {[0, 1, 2, 3, 4, 5].map((i) => (
        <Panel key={i} i={i} />
      ))}

      {/* NIR line identifications above the top panel */}
      <IdText cx={x(NIR_LINES[0])} cy={68}>
        Pa <Greek>δ</Greek>
      </IdText>
      <IdText cx={x(NIR_LINES[1])} cy={19}>
        Pa <Greek>γ</Greek>
      </IdText>
      <IdText cx={x(NIR_LINES[1])} cy={44}>
        +He I
      </IdText>
      <IdText cx={x(NIR_LINES[2])} cy={68}>
        O I
      </IdText>
      <IdText cx={x(NIR_LINES[3])} cy={68}>
        Pa <Greek>β</Greek>
      </IdText>
      <IdText cx={x(NIR_LINES[4])} cy={42}>
        C I <Greek>λ</Greek>
        <tspan fontFamily={SERIF}>1.69</tspan>
      </IdText>
      <IdText cx={x(NIR_LINES[4])} cy={68}>
        +Br 11
      </IdText>
      <IdText cx={x(NIR_LINES[5])} cy={68}>
        He I
      </IdText>
      <IdText cx={x(NIR_LINES[6]) + 2} cy={68}>
        Br <Greek>γ</Greek>
      </IdText>

      {/* optical line identifications */}
      {/* panel 1 */}
      <IdText cx={x(HE_I_5876)} cy={panelTop(0) + 81}>He I</IdText>
      <IdText cx={x(N_II_5755)} cy={panelTop(0) + 106}>N II</IdText>
      <Dash x1={x(N_II_5755)} x2={x(N_II_5755)} y1={panelTop(0) + 115} y2={panelTop(0) + 155} />
      <Dash x1={x(HE_I_5876)} x2={x(HE_I_5876)} y1={panelTop(0) + 91} y2={panelTop(0) + 160} />
      {/* panel 2 */}
      <IdText cx={x(N_II_5755)} cy={panelTop(1) + 127}>N II</IdText>
      <Dash x1={x(N_II_5755)} x2={x(N_II_5755)} y1={panelTop(1) + 135} y2={panelTop(1) + 182} />
      <IdText cx={x(N_I_8210)} cy={panelTop(1) + 69}>N I</IdText>
      <Dash x1={x(N_I_8210)} x2={x(N_I_8210)} y1={panelTop(1) + 78} y2={panelTop(1) + 95} />
      {/* panel 3 */}
      {[HE_I_5876, HE_I_6678, HE_I_7065].map((w, k) => (
        <Dash key={k} x1={x(w)} x2={x(w)} y1={panelTop(2) + 145} y2={panelTop(2) + 169} />
      ))}
      <Dash x1={x(HE_I_5876)} x2={x(HE_I_7065)} y1={panelTop(2) + 169} y2={panelTop(2) + 169} />
      <IdText cx={226} cy={panelTop(2) + 181}>He I</IdText>
      {/* panel 5 */}
      <IdText cx={x((FE_II_BLUE + FE_II_RED) / 2)} cy={panelTop(4) + 123}>Fe II</IdText>
      <Dash x1={x(FE_II_BLUE)} x2={x(FE_II_RED)} y1={panelTop(4) + 137} y2={panelTop(4) + 137} />
      <Dash x1={x(FE_II_BLUE)} x2={x(FE_II_BLUE)} y1={panelTop(4) + 137} y2={panelTop(4) + 177} />
      <Dash x1={x(FE_II_RED)} x2={x(FE_II_RED)} y1={panelTop(4) + 137} y2={panelTop(4) + 177} />
      {/* panel 6 */}
      <IdText cx={x((FE_II_BLUE + FE_II_RED) / 2)} cy={panelTop(5) + 64}>Fe II</IdText>
      <Dash x1={x(FE_II_BLUE)} x2={x(FE_II_RED)} y1={panelTop(5) + 77} y2={panelTop(5) + 77} />
      <Dash x1={x(FE_II_BLUE)} x2={x(FE_II_BLUE)} y1={panelTop(5) + 77} y2={panelTop(5) + 135} />
      <Dash x1={x(FE_II_RED)} x2={x(FE_II_RED)} y1={panelTop(5) + 77} y2={panelTop(5) + 135} />
      <IdText cx={x(N_II_5755)} cy={panelTop(5) + 109}>N II</IdText>
      <Dash x1={x(N_II_5755)} x2={x(N_II_5755)} y1={panelTop(5) + 117} y2={panelTop(5) + 158} />

      {/* x tick labels */}
      {WAVE_TICKS.map((t, k) => (
        <text key={k} x={x(t)} y={lastBottom + 24} textAnchor="middle" fontFamily={SERIF} fontSize={19} fill="#000">
          {TICK_LABELS[k]}
        </text>
      ))}

      {/* axis titles */}
      <text x={637} y={1499} textAnchor="middle" fontFamily={SANS} fontSize={27} fill="#000">
        Wavelength (<Greek>μ</Greek>m)
      </text>
      <text transform="translate(35,760) rotate(-90)" textAnchor="middle" fontFamily={SANS} fontSize={27} fill="#000">
        Scaled flux (erg cm
        <tspan dy={-10} fontSize={18}>−2</tspan>
        <tspan dy={10}> s</tspan>
        <tspan dy={-10} fontSize={18}>−1</tspan>
        <tspan dy={10}> Å</tspan>
        <tspan dy={-10} fontSize={18}>−1</tspan>
        <tspan dy={10}>)</tspan>
      </text>
    </svg>
  );
}
